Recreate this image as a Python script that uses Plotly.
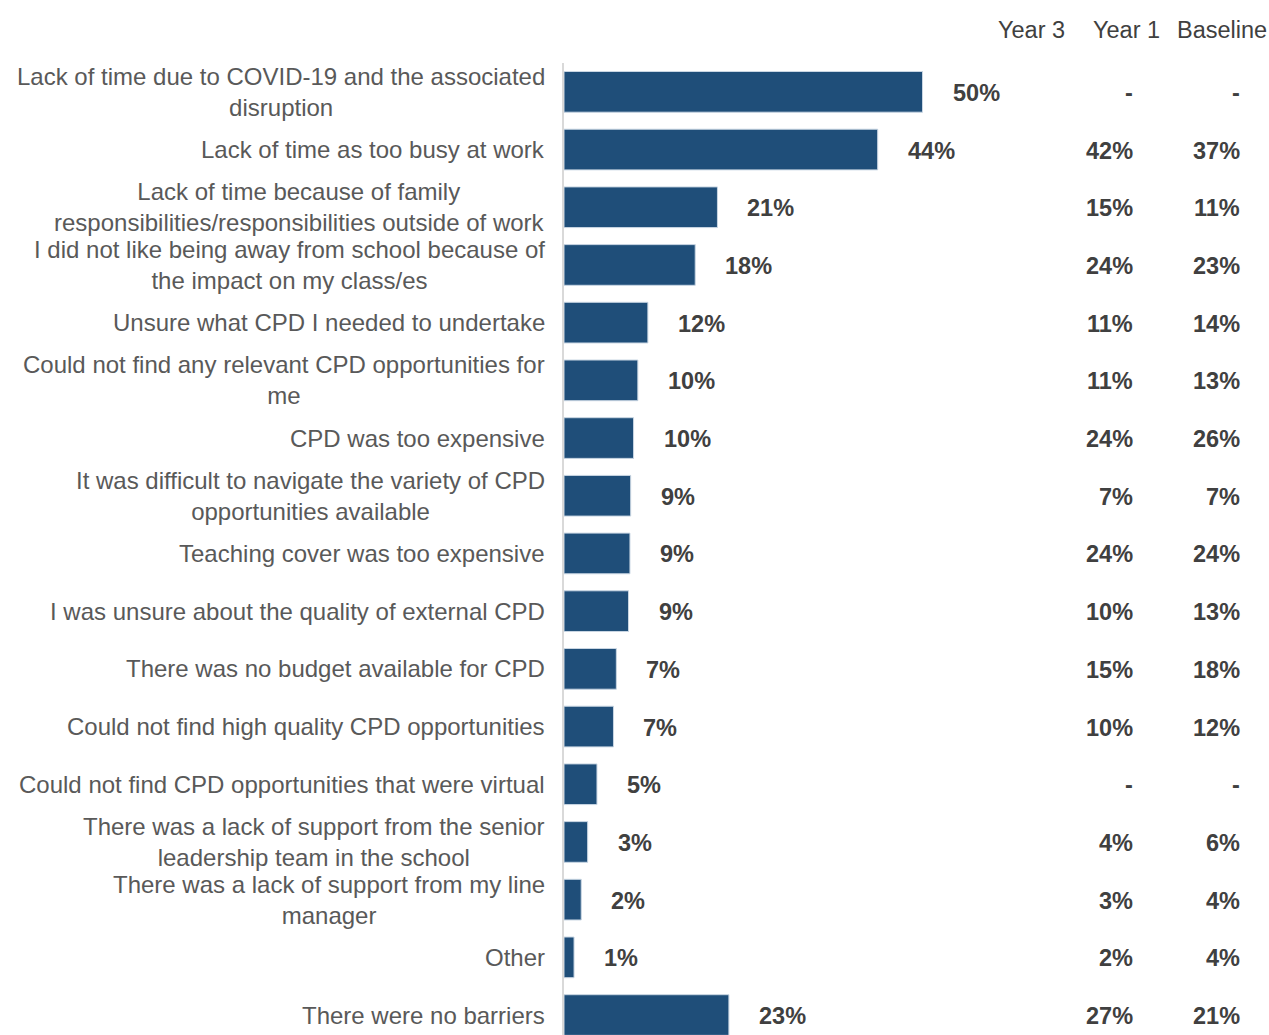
import plotly.graph_objects as go

# ---- data ----
categories = [
    "Lack of time due to COVID-19 and the associated<br>disruption",
    "Lack of time as too busy at work",
    "Lack of time because of family<br>responsibilities/responsibilities outside of work",
    "I did not like being away from school because of<br>the impact on my class/es",
    "Unsure what CPD I needed to undertake",
    "Could not find any relevant CPD opportunities for<br>me",
    "CPD was too expensive",
    "It was difficult to navigate the variety of CPD<br>opportunities available",
    "Teaching cover was too expensive",
    "I was unsure about the quality of external CPD",
    "There was no budget available for CPD",
    "Could not find high quality CPD opportunities",
    "Could not find CPD opportunities that were virtual",
    "There was a lack of support from the senior<br>leadership team in the school",
    "There was a lack of support from my line<br>manager",
    "Other",
    "There were no barriers",
]
year3 = [50.0, 43.75, 21.4, 18.3, 11.7, 10.3, 9.7, 9.3, 9.2, 9.0, 7.3, 6.9, 4.6, 3.3, 2.4, 1.4, 23.0]
year1 = [None, 42, 15, 24, 11, 11, 24, 7, 24, 10, 15, 10, None, 4, 3, 2, 27]
baseline = [None, 37, 11, 23, 14, 13, 26, 7, 24, 13, 18, 12, None, 6, 4, 4, 21]
column_headers = ["Year 3", "Year 1", "Baseline"]

# ---- styling ----
FONT = "Liberation Sans, Arial, sans-serif"
BAR_COLOR = "#1F4E79"
LABEL_COLOR = "#595959"
VALUE_COLOR = "#404040"

W, H = 1269, 1035
ML, MT = 564, 63
PW = W - ML
PX_PER_PCT = 7.17

ypos = list(range(len(categories)))

fig = go.Figure()
fig.add_trace(go.Bar(
    x=year3, y=ypos, orientation="h",
    marker=dict(color=BAR_COLOR, line=dict(color="#C9D6E3", width=1)),
    width=0.705, hoverinfo="skip",
))

annotations = []
for i, lab in enumerate(categories):
    annotations.append(dict(
        x=0, xref="paper", y=i, yref="y", text=lab, showarrow=False,
        xanchor="right", yanchor="middle", align="center", xshift=-17,
        font=dict(family=FONT, size=24, color=LABEL_COLOR),
    ))

def fmt(v):
    return "-" if v is None else f"{v:.0f}%"

for i, v in enumerate(year3):
    annotations.append(dict(
        x=v, xref="x", y=i, yref="y", text=f"<b>{fmt(v)}</b>", showarrow=False,
        xanchor="left", yanchor="middle", xshift=28, yshift=-1,
        font=dict(family=FONT, size=23.5, color=VALUE_COLOR),
    ))

col_right = [(1135 - ML) / PW, (1242 - ML) / PW]
for series, xr in zip([year1, baseline], col_right):
    for i, v in enumerate(series):
        annotations.append(dict(
            x=xr, xref="paper", y=i, yref="y", text=f"<b>{fmt(v)}</b>", showarrow=False,
            xanchor="right", yanchor="middle", yshift=-1,
            font=dict(family=FONT, size=23.5, color=VALUE_COLOR),
        ))

header_centers = [1031.5, 1126, 1222]
for h, cx in zip(column_headers, header_centers):
    annotations.append(dict(
        x=(cx - ML) / PW, xref="paper", y=1 + (MT - 30) / (H - MT), yref="paper",
        text=h, showarrow=False, xanchor="center", yanchor="middle",
        font=dict(family=FONT, size=23.5, color=VALUE_COLOR),
    ))

row_px = 57.7
n_rows_visible = (H - MT) / row_px

fig.update_layout(
    width=W, height=H,
    margin=dict(l=ML, r=0, t=MT, b=0, pad=0),
    paper_bgcolor="white", plot_bgcolor="white",
    showlegend=False,
    annotations=annotations,
    xaxis=dict(range=[0, PW / PX_PER_PCT], showgrid=False, zeroline=False,
               showticklabels=False, ticks="", showline=False, fixedrange=True),
    yaxis=dict(range=[-0.5 + n_rows_visible, -0.5], showgrid=False, zeroline=False,
               showticklabels=False, ticks="", showline=True, linecolor="#D9D9D9",
               linewidth=2, fixedrange=True),
    bargap=0.3,
)

fig.write_html(
    "out.html",
    config={"displayModeBar": False},
    post_script="document.body.style.margin='0';document.body.style.overflow='hidden';",
)
